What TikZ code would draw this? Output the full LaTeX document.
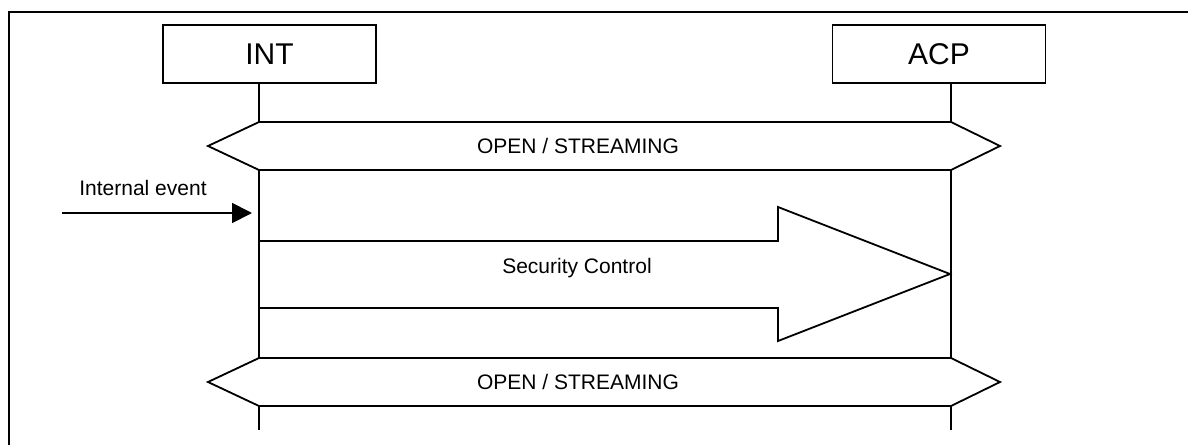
\documentclass[tikz,border=0pt]{standalone}
\usepackage{fontspec}
\setmainfont{Liberation Sans}
\usepackage{tikz}
\usetikzlibrary{positioning,arrows.meta}

\tikzset{
	entity/.style={draw, fill=white, minimum width=106.5pt, minimum height=29pt, inner sep=0pt, font=\fontsize{15}{18}\selectfont},
	lbl/.style={inner sep=0pt, font=\fontsize{10.5}{12}\selectfont},
	band/.style={draw, fill=white, line join=miter},
	msg/.style={draw, line join=miter}
}

\begin{document}
\begin{tikzpicture}[x=0.5pt,y=-0.5pt,line width=0.9pt,>={Triangle[length=10pt,width=10pt]}]
		\useasboundingbox (0,0) rectangle (1188,445);

		%the frame
		\coordinate (fr) at (9,12);
		\draw (fr -| 1188,0) -- (fr) -- (fr |- 0,445);

		%the two entities and their lifelines
		\node[entity] (int) at (269.5,54) {INT};
		\node[entity] (acp) at (939,54) {ACP};
		\coordinate (inttop) at (259,83);
		\coordinate (intend) at (259,430);
		\coordinate (acptop) at (951,83);
		\coordinate (acpend) at (951,430);
		\draw (inttop) -- (intend);
		\draw (acptop) -- (acpend);

		%the state bands
		\draw[band] (259,122) -- (951,122) -- (1000,146) -- (951,170) -- (259,170) -- (208,146) -- cycle;
		\node[lbl] (open1) at (578,146) {OPEN / STREAMING};
		\draw[band] (259,358) -- (951,358) -- (1000,382) -- (951,406) -- (259,406) -- (208,382) -- cycle;
		\node[lbl] (open2) at (578,382) {OPEN / STREAMING};

		% the internal event
		\coordinate (ev) at (62,213);
		\coordinate (evend) at (252,213);
		\draw[->] (ev) -- (evend);
		\node[lbl] (evlbl) at (143,188) {Internal event};

		% the security control message
		\draw[msg] (259,241) -- (778,241) -- (778,207) -- (950,274) -- (778,341) -- (778,308) -- (259,308);
		\node[lbl] (sec) at (577,268) {Security Control};

	\end{tikzpicture}
\end{document}
